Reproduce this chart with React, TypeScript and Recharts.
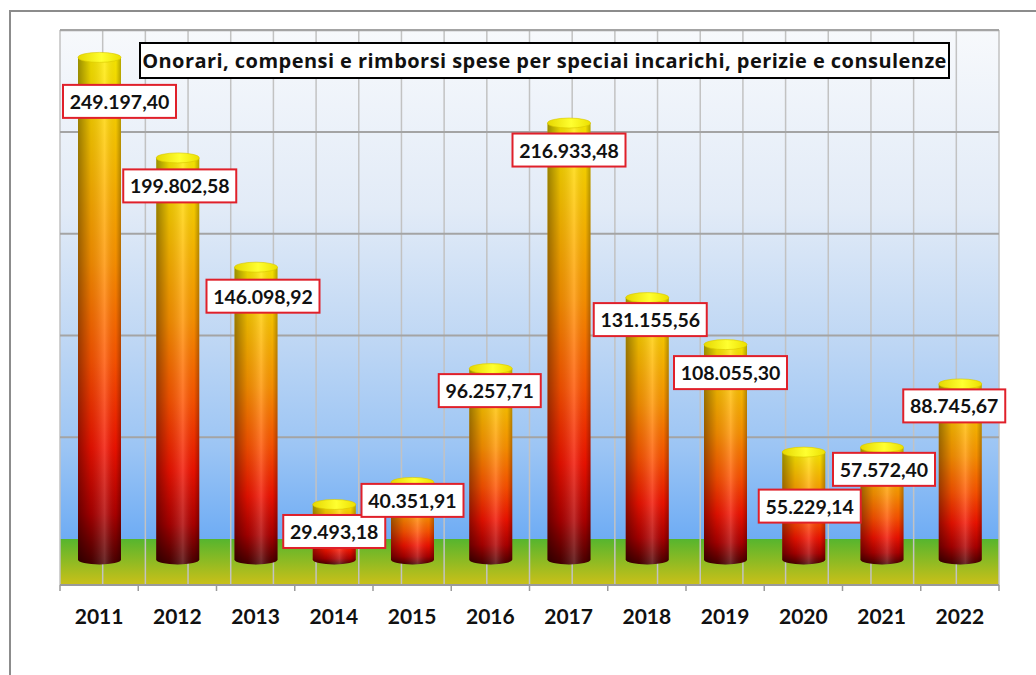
import { BarChart, Bar, XAxis, YAxis, CartesianGrid, LabelList } from 'recharts';

const years = ['2011', '2012', '2013', '2014', '2015', '2016', '2017', '2018', '2019', '2020', '2021', '2022'];
const amounts = [
  249197.4, 199802.58, 146098.92, 29493.18, 40351.91, 96257.71,
  216933.48, 131155.56, 108055.3, 55229.14, 57572.4, 88745.67,
];
// where each value tag sits relative to the top of its cylinder (dx, dy)
const labelShift = [
  [20, 44], [2, 28], [7, 29], [0, 27], [0, 18], [-1, 22],
  [0, 27], [3, 22], [5, 28], [6, 54], [2, 22], [-6, 22],
];
const gridValues = [50000, 100000, 150000, 200000, 250000];
const title = 'Onorari, compensi e rimborsi spese per speciai incarichi, perizie e consulenze';

const data = years.map((year, i) => ({ year, amount: amounts[i] }));

const W = 1036;
const H = 675;
const PLOT_LEFT = 60;
const PLOT_RIGHT = 999;
const PLOT_TOP = 30;
const PLOT_BOTTOM = 585;
const WALL_ZERO = 539; // baseline of the back wall
const BAR_ZERO = 564.5; // baseline of the cylinders (front)
const UNITS_PER_PX = 250000 / 508.75;
const BW = (PLOT_RIGHT - PLOT_LEFT) / years.length;

const gridDomain = [-(PLOT_BOTTOM - WALL_ZERO) * UNITS_PER_PX, (WALL_ZERO - PLOT_TOP) * UNITS_PER_PX];
const barDomain = [-(PLOT_BOTTOM - BAR_ZERO) * UNITS_PER_PX, (BAR_ZERO - PLOT_TOP) * UNITS_PER_PX];
const floorStop = gridDomain[1] / (gridDomain[1] - gridDomain[0]);
const halfTicks = Array.from({ length: years.length * 2 + 1 }, (_, i) => i / 2);

const FONT = 'Lato, "Open Sans", sans-serif';

function fmt(v: number) {
  const [int, dec] = v.toFixed(2).split('.');
  return int.replace(/\B(?=(\d{3})+(?!\d))/g, '.') + ',' + dec;
}

function Cylinder(props: any) {
  const { x, y, width, height } = props;
  if (!height || height <= 0) return null;
  const rx = width / 2;
  const ry = 5;
  const yb = y + height - ry;
  const d = `M${x},${y} L${x},${yb} A${rx},${ry} 0 0 0 ${x + width},${yb} L${x + width},${y} Z`;
  return (
    <g>
      <path d={d} fill="url(#cylBody)" />
      <path d={d} fill="url(#cylShade)" />
      <ellipse cx={x + rx} cy={y} rx={rx} ry={ry} fill="url(#cylTop)" stroke="#d8c600" strokeWidth={0.6} />
    </g>
  );
}

function ValueTag(props: any) {
  const vb = props.viewBox || {};
  const x = props.x ?? vb.x;
  const y = props.y ?? vb.y;
  const width = props.width ?? vb.width;
  const idx = props.index ?? amounts.indexOf(props.value);
  const [dx, dy] = labelShift[idx] || [0, 25];
  const text = fmt(Number(props.value));
  const w = text.length * 11 + 3;
  const h = 33;
  const cx = x + width / 2 + dx;
  const cy = y + dy;
  return (
    <g>
      <rect x={cx - w / 2} y={cy - h / 2} width={w} height={h} fill="#fff" stroke="#e0202a" strokeWidth={2} />
      <text
        x={cx}
        y={cy}
        textAnchor="middle"
        dominantBaseline="central"
        fontFamily={FONT}
        fontWeight={700}
        fontSize={19.5}
        fill="#111"
      >
        {text}
      </text>
    </g>
  );
}

function YearTick(props: any) {
  const { x, payload, index } = props;
  const last = index === years.length - 1;
  return (
    <g>
      <line x1={x - BW / 2} x2={x - BW / 2} y1={PLOT_BOTTOM} y2={PLOT_BOTTOM + 6} stroke="#9a9a9a" strokeWidth={1.5} />
      {last && (
        <line x1={x + BW / 2} x2={x + BW / 2} y1={PLOT_BOTTOM} y2={PLOT_BOTTOM + 6} stroke="#9a9a9a" strokeWidth={1.5} />
      )}
      <text
        x={x}
        y={PLOT_BOTTOM + 30}
        textAnchor="middle"
        dominantBaseline="central"
        fontFamily={FONT}
        fontWeight={700}
        fontSize={21}
        fill="#111"
      >
        {payload.value}
      </text>
    </g>
  );
}

export default function App() {
  return (
    <div style={{ position: 'absolute', left: 0, top: 0, width: W, height: H, overflow: 'hidden', background: '#fff' }}>
      <div
        style={{
          position: 'absolute',
          left: 9,
          top: 10,
          width: 1100,
          height: 700,
          borderTop: '2px solid #8c8c8c',
          borderLeft: '2px solid #8c8c8c',
        }}
      />
      <div style={{ position: 'absolute', left: 0, top: 0 }}>
        <BarChart
          width={W}
          height={H}
          data={data}
          margin={{ top: PLOT_TOP, right: W - PLOT_RIGHT, bottom: H - PLOT_BOTTOM - 40, left: PLOT_LEFT }}
        >
          <defs>
            <linearGradient id="wallFloor" x1="0" y1="0" x2="0" y2="1">
              <stop offset="0" stopColor="#f7f9fc" />
              <stop offset={floorStop * 0.35} stopColor="#e2ebf7" />
              <stop offset={floorStop * 0.62} stopColor="#bdd6f4" />
              <stop offset={floorStop * 0.82} stopColor="#9cc5f4" />
              <stop offset={floorStop} stopColor="#6eacf4" />
              <stop offset={floorStop} stopColor="#56b52e" />
              <stop offset="1" stopColor="#cbc018" />
            </linearGradient>
            <linearGradient id="cylBody" x1="0" y1="0" x2="0" y2="1">
              <stop offset="0" stopColor="#ffee00" />
              <stop offset="0.15" stopColor="#ffcc00" />
              <stop offset="0.4" stopColor="#ff9400" />
              <stop offset="0.6" stopColor="#ff5400" />
              <stop offset="0.77" stopColor="#f21200" />
              <stop offset="0.9" stopColor="#b00000" />
              <stop offset="1" stopColor="#480000" />
            </linearGradient>
            <linearGradient id="cylShade" x1="0" y1="0" x2="1" y2="0">
              <stop offset="0" stopColor="#000" stopOpacity={0.4} />
              <stop offset="0.3" stopColor="#000" stopOpacity={0.1} />
              <stop offset="0.62" stopColor="#fff" stopOpacity={0.18} />
              <stop offset="0.88" stopColor="#000" stopOpacity={0.05} />
              <stop offset="1" stopColor="#000" stopOpacity={0.3} />
            </linearGradient>
            <linearGradient id="cylTop" x1="0" y1="0" x2="1" y2="0">
              <stop offset="0" stopColor="#e6d800" />
              <stop offset="0.55" stopColor="#ffff30" />
              <stop offset="1" stopColor="#ece000" />
            </linearGradient>
          </defs>
          <XAxis xAxisId="gx" type="number" domain={[0, years.length]} ticks={halfTicks} interval={0} allowDataOverflow hide />
          <XAxis
            xAxisId="cat"
            dataKey="year"
            height={40}
            interval={0}
            tickLine={false}
            axisLine={{ stroke: '#9a9a9a', strokeWidth: 2 }}
            tick={<YearTick />}
          />
          <YAxis yAxisId="grid" type="number" domain={gridDomain} ticks={gridValues} allowDataOverflow hide />
          <YAxis yAxisId="val" type="number" domain={barDomain} allowDataOverflow hide />
          <CartesianGrid
            xAxisId="gx"
            yAxisId="grid"
            horizontal={false}
            vertical
            stroke="#c2c2c2"
            strokeWidth={1.5}
            fill="url(#wallFloor)"
            fillOpacity={1}
          />
          <CartesianGrid xAxisId="gx" yAxisId="grid" horizontal vertical={false} stroke="#a4a4a4" strokeWidth={2} />
          <Bar xAxisId="cat" yAxisId="val" dataKey="amount" barSize={43} shape={<Cylinder />} isAnimationActive={false}>
            <LabelList dataKey="amount" content={<ValueTag />} />
          </Bar>
        </BarChart>
      </div>
      <div
        style={{
          position: 'absolute',
          left: 139,
          top: 42,
          width: 811,
          height: 37,
          boxSizing: 'border-box',
          border: '2px solid #000',
          background: '#fff',
          fontFamily: '"Open Sans", Lato, sans-serif',
          fontWeight: 700,
          fontSize: 20,
          letterSpacing: 0.45,
          lineHeight: '33px',
          textAlign: 'center',
          whiteSpace: 'nowrap',
          color: '#111',
        }}
      >
        {title}
      </div>
    </div>
  );
}
